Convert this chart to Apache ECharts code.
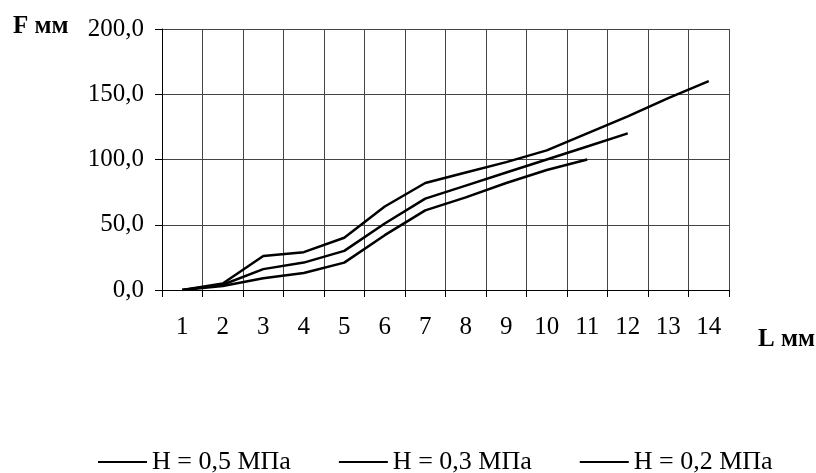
<!DOCTYPE html>
<html>
<head>
<meta charset="utf-8">
<script src="https://cdn.jsdelivr.net/npm/echarts@6/dist/echarts.min.js"></script>
<style>html,body{margin:0;padding:0;background:#fff}#c{width:816px;height:473px}</style>
</head>
<body>
<div id="c"></div>
<script>
const categories = ['1','2','3','4','5','6','7','8','9','10','11','12','13','14'];
const seriesNames = ['H = 0,5 МПа', 'H = 0,3 МПа', 'H = 0,2 МПа'];
const h05 = [0, 5, 26, 29, 40, 64, 82, 90, 98, 107, 120, 133, 147, 160];
const h03 = [0, 4, 16, 21, 30, 51, 70, 80, 90, 100, 110, 120];
const h02 = [0, 3, 9, 13, 21, 42, 61, 71, 82, 92, 100];
const yTicks = { min: 0, max: 200, step: 50 };

const FONT = 'Liberation Serif';
const chart = echarts.init(document.getElementById('c'));
const mk = (name, data) => ({
  name, type: 'line', data, symbol: 'none', smooth: false,
  lineStyle: { color: '#000', width: 2.5 }, itemStyle: { color: '#000' }
});
chart.setOption({
  animation: false,
  grid: { left: 162, right: 87, top: 29, bottom: 183 },
  xAxis: {
    type: 'category', data: categories, boundaryGap: true,
    axisLine: { lineStyle: { color: '#000', width: 1 } },
    axisTick: { show: true, interval: 0, length: 7, lineStyle: { color: '#000' } },
    axisLabel: { interval: 0, color: '#000', fontFamily: FONT, fontSize: 25, margin: 25 },
    splitLine: { show: true, interval: 0, lineStyle: { color: '#444', width: 1 } }
  },
  yAxis: {
    type: 'value', min: yTicks.min, max: yTicks.max, interval: yTicks.step,
    axisLine: { show: true, lineStyle: { color: '#000', width: 1 } },
    axisTick: { show: true, length: 7, lineStyle: { color: '#000' } },
    axisLabel: { color: '#000', fontFamily: FONT, fontSize: 25, margin: 18,
      formatter: v => v.toFixed(1).replace('.', ',') },
    splitLine: { show: true, lineStyle: { color: '#444', width: 1 } }
  },
  legend: {
    left: 93, top: 444, itemWidth: 49, itemHeight: 14, itemGap: 48,
    icon: 'path://M0,6 L49,6 L49,8 L0,8 Z',
    textStyle: { color: '#000', fontFamily: FONT, fontSize: 26 },
    data: seriesNames
  },
  graphic: [
    { type: 'text', left: 13, top: 14, style: { text: 'F мм', font: 'bold 25px "Liberation Serif"', fill: '#000' } },
    { type: 'text', left: 758, top: 327, style: { text: 'L мм', font: 'bold 25px "Liberation Serif"', fill: '#000' } }
  ],
  series: [mk(seriesNames[0], h05), mk(seriesNames[1], h03), mk(seriesNames[2], h02)]
});
</script>
</body>
</html>
